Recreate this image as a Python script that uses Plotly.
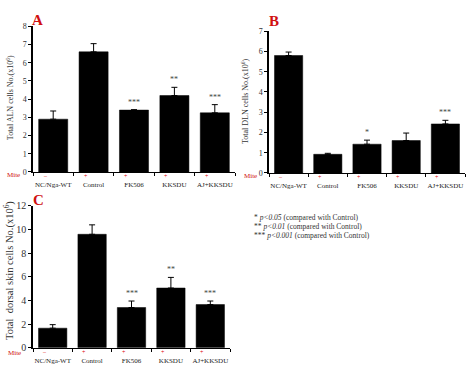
import plotly.graph_objects as go

W, H = 469, 376

categories = ["NC/Nga-WT", "Control", "FK506", "KKSDU", "AJ+KKSDU"]
mite_marks = ["–", "+", "+", "+", "+"]

# Panel A: Total ALN cells
a_vals = [2.9, 6.6, 3.4, 4.2, 3.25]
a_tops = [3.35, 7.05, 3.42, 4.65, 3.7]
a_sig = ["", "", "***", "**", "***"]

# Panel B: Total DLN cells
b_vals = [5.8, 0.92, 1.42, 1.6, 2.42]
b_tops = [5.97, 0.97, 1.62, 1.97, 2.6]
b_sig = ["", "", "*", "", "***"]

# Panel C: Total dorsal skin cells
c_vals = [1.65, 9.6, 3.4, 5.05, 3.65]
c_tops = [1.95, 10.4, 3.95, 5.95, 3.95]
c_sig = ["", "", "***", "**", "***"]

legend_lines = [
    "* <i>p&lt;0.05</i> (compared with Control)",
    "** <i>p&lt;0.01</i> (compared with Control)",
    "*** <i>p&lt;0.001</i> (compared with Control)",
]

SERIF = "Liberation Serif, Times New Roman, serif"


def px_x(p):
    return p / W


def px_y(p):
    return 1 - p / H


panels = [
    dict(vals=a_vals, tops=a_tops, sig=a_sig, x=(33, 235), y=(22, 172), yr=8, dt=1, tf=8,
         title="Total ALN cells No.(x10<sup>6</sup>)", tpos=(10, 96), tsize=8,
         letter="A", lpos=(30, 15), mite=(13, 175)),
    dict(vals=b_vals, tops=b_tops, sig=b_sig, x=(269, 465), y=(27, 173), yr=7, dt=1, tf=8,
         title="Total DLN cells No.(x10<sup>6</sup>)", tpos=(245, 99), tsize=8,
         letter="B", lpos=(267, 16), mite=(250, 176)),
    dict(vals=c_vals, tops=c_tops, sig=c_sig, x=(33, 230), y=(207, 353), yr=12, dt=2, tf=10,
         title="Total  dorsal skin cells No.(x10<sup>6</sup>)", tpos=(9, 274), tsize=10.5,
         letter="C", lpos=(31, 201), mite=(14, 359)),
]

fig = go.Figure()
annotations = []
layout = {}

for i, p in enumerate(panels, start=1):
    xa = "x" if i == 1 else f"x{i}"
    ya = "y" if i == 1 else f"y{i}"
    fig.add_trace(go.Bar(
        x=categories, y=p["vals"], xaxis=xa, yaxis=ya,
        marker=dict(color="black", line=dict(color="black", width=0.5)),
        width=0.72,
        error_y=dict(type="data", symmetric=False,
                     array=[t - v for t, v in zip(p["tops"], p["vals"])],
                     arrayminus=[0] * len(p["vals"]),
                     color="black", thickness=1, width=3),
        showlegend=False,
    ))
    xkey = "xaxis" if i == 1 else f"xaxis{i}"
    ykey = "yaxis" if i == 1 else f"yaxis{i}"
    layout[xkey] = dict(
        domain=[px_x(p["x"][0]), px_x(p["x"][1])], anchor=ya,
        type="category", showline=True, linecolor="black", linewidth=1,
        ticks="outside", tickson="boundaries", ticklen=3, tickcolor="black",
        tickangle=0, ticklabelstandoff=6,
        tickfont=dict(family=SERIF, size=7, color="#222"), showgrid=False,
        fixedrange=True,
    )
    layout[ykey] = dict(
        domain=[px_y(p["y"][1]), px_y(p["y"][0])], anchor=xa,
        range=[0, p["yr"]], dtick=p["dt"], showline=True, linecolor="black",
        linewidth=1.5, ticks="outside", ticklen=3, tickcolor="black",
        tickfont=dict(family=SERIF, size=p["tf"], color="#333"), showgrid=False,
        zeroline=False, fixedrange=True,
    )
    for c, t, s in zip(categories, p["tops"], p["sig"]):
        if s:
            annotations.append(dict(x=c, y=t, xref=xa, yref=ya, text=s, showarrow=False,
                                    yanchor="bottom", yshift=1,
                                    font=dict(family=SERIF, size=8, color="#444")))
    for c, m in zip(categories, mite_marks):
        annotations.append(dict(x=c, y=0, xref=xa, yref=ya, text=m, showarrow=False,
                                yanchor="middle", yshift=-4, xshift=-8,
                                font=dict(family=SERIF, size=6, color="#d00")))
    annotations.append(dict(x=px_x(p["tpos"][0]), y=px_y(p["tpos"][1]), xref="paper", yref="paper",
                            text=p["title"], textangle=-90, showarrow=False,
                            xanchor="center", yanchor="middle",
                            font=dict(family=SERIF, size=p["tsize"], color="#333")))
    annotations.append(dict(x=px_x(p["lpos"][0]), y=px_y(p["lpos"][1]), xref="paper", yref="paper",
                            text="<b>" + p["letter"] + "</b>", showarrow=False,
                            xanchor="left", yanchor="middle",
                            font=dict(family=SERIF, size=15, color="#d01010")))
    annotations.append(dict(x=px_x(p["mite"][0]), y=px_y(p["mite"][1]), xref="paper", yref="paper",
                            text="Mite", showarrow=False, xanchor="center", yanchor="middle",
                            font=dict(family=SERIF, size=7, color="#d01010")))

for k, line in enumerate(legend_lines):
    annotations.append(dict(x=px_x(252), y=px_y(219 + 9 * k), xref="paper", yref="paper",
                            text=line, showarrow=False, xanchor="left", yanchor="middle",
                            font=dict(family=SERIF, size=7.5, color="#333")))

fig.update_layout(
    width=W, height=H, margin=dict(l=0, r=0, t=0, b=0),
    paper_bgcolor="white", plot_bgcolor="white",
    annotations=annotations, bargap=0.28,
    **layout,
)

fig.write_html("out.html", config={"displayModeBar": False})
